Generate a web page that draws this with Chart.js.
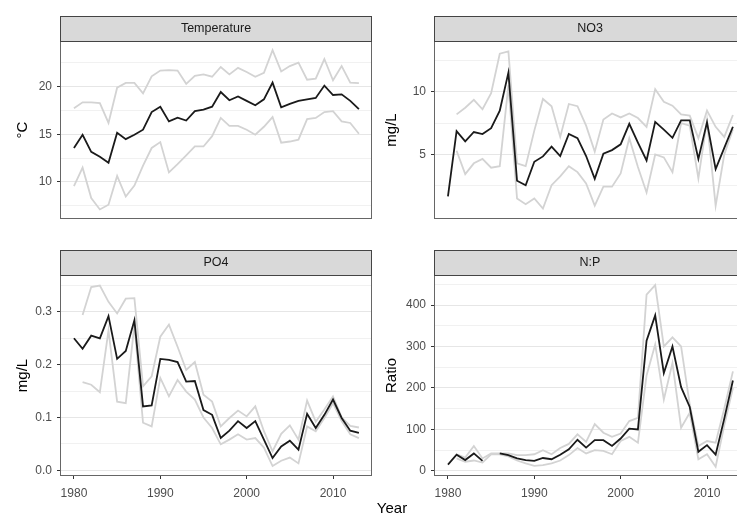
<!DOCTYPE html>
<html><head><meta charset="utf-8">
<script src="https://cdn.jsdelivr.net/npm/chart.js@4/dist/chart.umd.min.js"></script>
<style>
html,body{margin:0;padding:0;background:#fff;overflow:hidden;}
#wrap{position:relative;width:737px;height:518px;overflow:hidden;background:#fff;}
canvas{position:absolute;}
#xlab{position:absolute;left:342px;width:100px;text-align:center;top:499px;font:15px "Liberation Sans",Arial,sans-serif;color:#000;}
</style></head><body>
<div id="wrap">
<canvas id="cT" width="372" height="228" style="left:0;top:16px"></canvas>
<canvas id="cN" width="374" height="228" style="left:372px;top:16px"></canvas>
<canvas id="cP" width="372" height="250" style="left:0;top:250px"></canvas>
<canvas id="cR" width="374" height="250" style="left:372px;top:250px"></canvas>
<div id="xlab">Year</div>
</div>
<script>
const years = [1980,1981,1982,1983,1984,1985,1986,1987,1988,1989,1990,1991,1992,1993,1994,1995,1996,1997,1998,1999,2000,2001,2002,2003,2004,2005,2006,2007,2008,2009,2010,2011,2012,2013];
const xTicks = [1980,1990,2000,2010];

const tempMean  = [13.56,14.95,13.16,12.63,12.01,15.17,14.49,14.95,15.48,17.34,17.9,16.35,16.75,16.44,17.43,17.59,17.9,19.44,18.58,18.98,18.51,18.05,18.67,20.43,17.83,18.2,18.51,18.67,18.82,20.12,19.13,19.2,18.51,17.65];
const tempUpper = [17.74,18.36,18.36,18.27,16.2,19.9,20.4,20.4,19.3,21.1,21.7,21.75,21.7,20.3,21.15,21.3,21.05,22.07,21.3,21.98,21.55,21.05,21.46,23.84,21.61,22.17,22.54,20.74,20.84,22.91,20.68,22.17,20.43,20.37];
const tempLower = [9.54,11.49,8.3,7.1,7.6,10.62,8.45,9.6,11.7,13.56,14.18,10.99,11.86,12.79,13.72,13.72,14.8,16.72,15.88,15.88,15.48,14.95,15.79,16.81,14.12,14.24,14.43,16.59,16.72,17.34,17.43,16.35,16.19,15.05];

const no3Mean  = [1.67,6.86,6.05,6.79,6.63,7.09,8.49,11.51,2.91,2.56,4.42,4.85,5.63,4.88,6.63,6.3,4.88,3.07,5.07,5.35,5.81,7.44,5.95,4.53,7.6,6.98,6.33,7.72,7.72,4.65,7.56,3.84,5.53,7.21];
const no3Upper = [null,8.19,8.72,9.35,8.6,9.88,13.02,13.2,4.3,4.07,6.9,9.42,8.84,6.4,9.02,8.84,7.3,5.23,7.79,8.26,7.95,8.26,7.9,7.2,10.19,9.19,8.88,8.19,8.09,6.3,8.49,7.2,6.4,8.14];
const no3Lower = [null,5.3,3.44,4.3,4.65,3.95,4.07,10.5,1.51,1.05,1.51,0.7,2.56,3.26,4.07,3.6,2.7,0.93,2.44,2.44,3.49,6.3,4.0,1.98,5.0,4.77,3.6,7.5,7.3,3.1,7.7,0.93,5.0,7.0];

const po4Mean  = [0.25,0.23,0.255,0.25,0.292,0.211,0.226,0.284,0.121,0.123,0.211,0.209,0.205,0.168,0.169,0.114,0.105,0.061,0.075,0.093,0.08,0.093,0.058,0.023,0.045,0.056,0.039,0.107,0.08,0.105,0.134,0.099,0.075,0.071];
const po4Upper = [null,0.294,0.347,0.35,0.319,0.297,0.325,0.326,0.159,0.178,0.253,0.276,0.234,0.19,0.205,0.143,0.13,0.083,0.099,0.113,0.102,0.121,0.074,0.036,0.069,0.085,0.058,0.132,0.092,0.115,0.14,0.1,0.084,0.081];
const po4Lower = [null,0.167,0.162,0.148,0.265,0.13,0.127,0.275,0.09,0.083,0.175,0.14,0.171,0.149,0.134,0.1,0.08,0.049,0.058,0.068,0.058,0.061,0.043,0.008,0.018,0.024,0.013,0.083,0.074,0.099,0.127,0.093,0.068,0.061];

const npMean  = [15,39,26,42,24,null,42,38,30,26,24,31,28,39,52,75,56,74,74,60,78,102,100,314,375,236,300,202,154,46,62,39,126,218];
const npUpper = [null,40,32,60,30,42,42,42,38,38,40,50,40,55,65,88,70,113,92,82,90,120,128,425,448,300,322,300,160,60,72,68,150,240];
const npLower = [null,30,22,25,20,40,40,35,25,18,12,14,18,25,38,55,42,50,48,40,72,82,68,230,305,172,260,104,140,28,40,10,110,200];

const tempMajor = [10,15,20], tempMinor = [7.5,12.5,17.5,22.5], tempLabels = ['10','15','20'];
const no3Major = [5,10], no3Minor = [2.5,7.5,12.5], no3Labels = ['5','10'];
const po4Major = [0,0.1,0.2,0.3], po4Minor = [0.05,0.15,0.25,0.35], po4Labels = ['0.0','0.1','0.2','0.3'];
const npMajor = [0,100,200,300,400], npMinor = [50,150,250,350,450], npLabels = ['0','100','200','300','400'];

Chart.defaults.font.family = '"Liberation Sans", Arial, sans-serif';

const panelDeco = {
  id: 'panelDeco',
  beforeDraw(chart) {
    const tb = chart.titleBlock, ctx = chart.ctx;
    if (tb) {
      ctx.save();
      ctx.fillStyle = '#d9d9d9';
      ctx.fillRect(tb.left, tb.top, tb.width, tb.height);
      ctx.restore();
    }
  },
  afterDraw(chart) {
    const a = chart.chartArea, ctx = chart.ctx, tb = chart.titleBlock;
    ctx.save();
    ctx.strokeStyle = '#666666';
    ctx.lineWidth = 1;
    ctx.strokeRect(Math.round(a.left) - 0.5, Math.round(a.top) - 0.5, Math.round(a.right - a.left) + 1, Math.round(a.bottom - a.top) + 1);
    if (tb) {
      ctx.strokeStyle = '#444444';
      ctx.strokeRect(Math.round(tb.left) - 0.5, Math.round(tb.top) + 0.5, Math.round(tb.width) + 1, Math.round(tb.height) - 1);
    }
    ctx.restore();
  }
};

function toXY(vals) { return years.map((y, i) => ({x: y, y: vals[i]})); }

function makePanel(id, o) {
  const ds = [
    {data: toXY(o.mean), borderColor: '#1a1a1a', borderWidth: 1.8},
    {data: toXY(o.upper), borderColor: '#d3d3d3', borderWidth: 1.8},
    {data: toXY(o.lower), borderColor: '#d3d3d3', borderWidth: 1.8}
  ];
  return new Chart(document.getElementById(id), {
    type: 'line',
    data: {datasets: ds},
    plugins: [panelDeco],
    options: {
      responsive: false, animation: false, devicePixelRatio: 1,
      layout: {padding: {left: 0, right: 1, top: 0, bottom: o.showX ? 0 : 1}},
      elements: {point: {radius: 0}, line: {tension: 0}},
      plugins: {
        legend: {display: false}, tooltip: {enabled: false},
        title: {display: true, text: o.strip, fullSize: false, color: '#1a1a1a',
                font: {size: 12.5, weight: 'normal', lineHeight: '14px'}, padding: {top: 6, bottom: 6}}
      },
      scales: {
        x: {
          type: 'linear', min: 1978.5, max: 2014.4, display: o.showX,
          afterBuildTicks: s => { s.ticks = xTicks.map(v => ({value: v})); },
          ticks: {color: '#4d4d4d', font: {size: 12}, padding: 7, maxRotation: 0, autoSkip: false, callback: v => String(v)},
          grid: {color: 'rgba(0,0,0,0)', tickColor: '#333333', tickLength: 4, drawTicks: true},
          border: {display: false},
          afterFit: s => { s.height = 25; }
        },
        y: {
          type: 'linear', min: o.min, max: o.max,
          afterBuildTicks: s => {
            s.ticks = o.major.map(v => ({value: v, major: true}))
              .concat(o.minor.map(v => ({value: v, major: false})))
              .sort((a, b) => a.value - b.value);
          },
          ticks: {color: '#4d4d4d', font: {size: 12}, padding: 5, autoSkip: false,
                  callback: v => { const k = o.major.indexOf(v); return k >= 0 ? o.labels[k] : ''; }},
          grid: {
            color: c => (c.tick && c.tick.major) ? '#e6e6e6' : '#f1f1f1',
            tickColor: c => (c.tick && c.tick.major) ? '#333333' : 'rgba(0,0,0,0)',
            tickLength: 4, lineWidth: 1
          },
          border: {display: false},
          title: {display: true, text: o.ytitle, color: '#000', font: {size: 15}, padding: {top: o.tpad, bottom: 0}},
          afterFit: s => { s.width = o.yw; }
        }
      }
    }
  });
}

makePanel('cT', {strip: 'Temperature', ytitle: '°C', mean: tempMean, upper: tempUpper, lower: tempLower,
  min: 6.2, max: 24.7, major: tempMajor, minor: tempMinor, labels: tempLabels, showX: false, yw: 61, tpad: 14});
makePanel('cN', {strip: 'NO3', ytitle: 'mg/L', mean: no3Mean, upper: no3Upper, lower: no3Lower,
  min: -0.05, max: 13.95, major: no3Major, minor: no3Minor, labels: no3Labels, showX: false, yw: 63, tpad: 11});
makePanel('cP', {strip: 'PO4', ytitle: 'mg/L', mean: po4Mean, upper: po4Upper, lower: po4Lower,
  min: -0.009, max: 0.368, major: po4Major, minor: po4Minor, labels: po4Labels, showX: true, yw: 61, tpad: 14});
makePanel('cR', {strip: 'N:P', ytitle: 'Ratio', mean: npMean, upper: npUpper, lower: npLower,
  min: -10, max: 470, major: npMajor, minor: npMinor, labels: npLabels, showX: true, yw: 63, tpad: 11});
</script>
</body></html>
